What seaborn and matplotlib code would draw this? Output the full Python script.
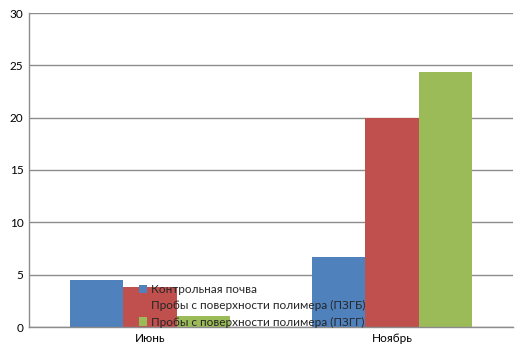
import matplotlib
matplotlib.use("Agg")
import matplotlib.pyplot as plt
import seaborn as sns
import pandas as pd

months = ["Июнь", "Ноябрь"]
series = ["Контрольная почва",
          "Пробы с поверхности полимера (ПЗГБ)",
          "Пробы с поверхности полимера (ПЗГГ)"]
control = [4.5, 6.7]
pzgb = [3.8, 20.0]
pzgg = [1.05, 24.4]
colors = ["#4F81BD", "#C0504D", "#9BBB59"]

rows = []
for name, vals in zip(series, [control, pzgb, pzgg]):
    for m, v in zip(months, vals):
        rows.append({"month": m, "series": name, "value": v})
df = pd.DataFrame(rows)

sns.set_style("white")
plt.rcParams["font.family"] = ["Lato", "DejaVu Sans"]

fig = plt.figure(figsize=(5.23, 3.51), dpi=100)
ax = fig.add_axes([29 / 523, 24 / 351, 484 / 523, 314 / 351])

sns.barplot(data=df, x="month", y="value", hue="series", palette=colors,
            width=0.66, saturation=1, linewidth=0, ax=ax, legend=True)

ax.set_ylim(0, 30)
ax.set_yticks(range(0, 31, 5))
ax.set_xlim(-0.5, 1.5)
ax.set_xlabel("")
ax.set_ylabel("")
ax.yaxis.grid(True, color="#8c8c8c", linewidth=1)
ax.set_axisbelow(True)
for s in ["top", "right"]:
    ax.spines[s].set_visible(False)
for s in ["left", "bottom"]:
    ax.spines[s].set_color("#8c8c8c")
    ax.spines[s].set_linewidth(1)
ax.tick_params(axis="both", length=0, labelsize=8.5, colors="black", pad=4)

leg = ax.legend(loc="upper left", bbox_to_anchor=(133 / 523, 1 - 278 / 351),
                bbox_transform=fig.transFigure, frameon=False, fontsize=8.5,
                handlelength=0.7, handleheight=0.7, handletextpad=0.3,
                labelspacing=0.45, borderpad=0)
for h in leg.legend_handles:
    h.set_linewidth(0)
leg.set_zorder(5)

fig.savefig("out.png", dpi=100)
